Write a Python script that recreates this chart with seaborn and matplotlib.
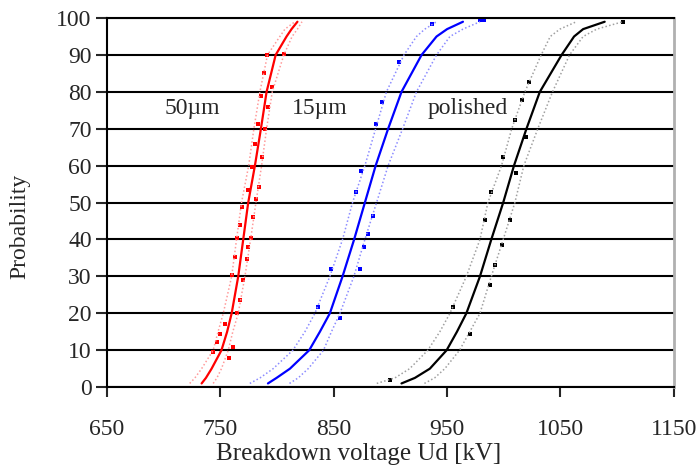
import pandas as pd
import seaborn as sns
import matplotlib.pyplot as plt

# Probability levels (%) at which the fitted curves were read
prob = [1, 2.5, 5, 10, 15, 20, 30, 40, 50, 60, 70, 80, 90, 95, 97, 99]

# 50 µm group (red)
red_mid = [733.5, 737.3, 742.3, 751, 756, 760, 765.8, 770.2, 774.6, 780.5, 785.8, 790.8, 798.8, 808.4, 812.8, 818]
red_low = [723, 727.6, 733.5, 743.7, 748, 752.6, 760, 764.3, 768.7, 775, 779.6, 784.9, 791.6, 802.5, 807, 815.8]
red_high = [743.7, 747, 751, 757, 761, 765.8, 771.7, 776.7, 781.4, 786.4, 790.8, 795.8, 806, 813.3, 818, 822]
red_pts_x = [743.7, 746.7, 749.6, 754, 760, 762.9, 764.3, 767.3, 768.7,
             757.9, 761.4, 764.9, 767.3, 770.2, 773.2, 774.6, 776.7, 779, 781.4,
             774.6, 777.6, 780.5, 782.9, 785.8, 788.7, 791.6,
             784, 786.4, 789.3, 792.3, 795.8, 806]
red_pts_p = [9.6, 12.3, 14.5, 17.2, 30.4, 35.3, 40.3, 43.9, 48.9,
             7.8, 10.9, 20, 23.6, 29, 34.8, 38, 40.3, 46.1, 51.1,
             53.4, 59.7, 66, 71.4, 79, 85, 90,
             54.3, 62.4, 70, 75.9, 81.4, 90.2]

# 15 µm group (blue)
blue_mid = [792, 799.6, 811.4, 828.4, 837.8, 846.6, 857.8, 868, 877.5, 887, 898, 909.8, 927.5, 940.7, 950, 964]
blue_low = [776, 785, 796.6, 814, 824.6, 833.4, 846.6, 857.8, 866.6, 877.5, 887, 896.5, 912, 923, 930.4, 940.7]
blue_high = [811, 818.7, 827.5, 841, 848, 855.5, 867.8, 877.5, 887.8, 898, 910.8, 923, 940.7, 952.5, 964, 979]
blue_pts_x = [836, 848, 855.5, 880.4, 877, 884.3, 873, 893, 887, 874.5, 869.6,
              979, 983, 937, 908]
blue_pts_p = [21.6, 32, 18.6, 41.6, 38, 46.3, 32, 77.3, 71.4, 58.6, 52.9,
              99.5, 99.5, 98.4, 88]

# polished group (black)
black_mid = [909.8, 921.6, 934.8, 949.6, 958.7, 967, 979, 989, 999.5, 1009, 1020, 1031.8, 1051, 1062, 1070, 1089]
black_low = [888, 904, 917, 933, 943.6, 952.5, 967, 979, 986, 998, 1007, 1018.6, 1033, 1041, 1049.5, 1064]
black_high = [930, 939, 948, 961, 970, 979, 989, 999.5, 1009.8, 1017.7, 1030, 1043, 1058, 1070, 1082, 1105]
black_pts_x = [1009.8, 1015.7, 1022.4, 999.5, 1020, 1011, 989, 1105, 983.3, 1005.4,
               998, 992, 987.7, 955.4, 970, 899.6]
black_pts_p = [72.4, 77.8, 82.7, 62.4, 67.8, 57.9, 53, 98.8, 45.3, 45.3,
               38.5, 33, 27.6, 21.8, 14.5, 1.9]

groups = [
    ("50µm", 701, red_mid, red_low, red_high, red_pts_x, red_pts_p, "#ff0000", "#ff9a9a"),
    ("15µm", 813, blue_mid, blue_low, blue_high, blue_pts_x, blue_pts_p, "#0000ff", "#8c8cff"),
    ("polished", 933, black_mid, black_low, black_high, black_pts_x, black_pts_p, "#000000", "#a0a0a0"),
]

sns.set_style("white")
plt.rcParams['font.family'] = ['Liberation Serif', 'DejaVu Serif']

fig, ax = plt.subplots(figsize=(6.99, 4.75), dpi=100)
fig.subplots_adjust(left=0.153, right=0.964, bottom=0.185, top=0.962)

# horizontal grid
ax.set_yticks(range(0, 101, 10))
ax.yaxis.grid(True, color='black', linewidth=1.5)
ax.set_axisbelow(True)

for name, tx, mid, low, high, px, pp, col, light in groups:
    sns.lineplot(x=low, y=prob, ax=ax, color=light, linewidth=1.1, linestyle=(0, (1, 1.5)), sort=False)
    sns.lineplot(x=high, y=prob, ax=ax, color=light, linewidth=1.1, linestyle=(0, (1, 1.5)), sort=False)
    sns.lineplot(x=mid, y=prob, ax=ax, color=col, linewidth=1.6, sort=False)
    sns.scatterplot(x=px, y=pp, ax=ax, color=col, marker='s', s=10, linewidth=0)
    ax.text(tx, 75.5, name, fontsize=17, va='center', ha='left')

ax.set_xlim(650, 1150)
ax.set_ylim(0, 100)
ax.set_xticks(range(650, 1151, 100))

for s in ['left', 'bottom', 'top']:
    ax.spines[s].set_color('black')
    ax.spines[s].set_linewidth(1.5)
ax.spines['right'].set_color('#b0b0b0')
ax.spines['right'].set_linewidth(2)

ax.tick_params(axis='x', direction='out', length=7, width=1.5, pad=16, labelsize=17, bottom=True)
ax.tick_params(axis='y', direction='out', length=8, width=1.5, pad=3, labelsize=17, left=True)

ax.set_xlabel('Breakdown voltage Ud [kV]', fontsize=18)
ax.xaxis.set_label_coords(0.444, -0.152)
ax.set_ylabel('Probability', fontsize=17)
ax.yaxis.set_label_coords(-0.135, 0.435)

plt.savefig('out.png', dpi=100)
